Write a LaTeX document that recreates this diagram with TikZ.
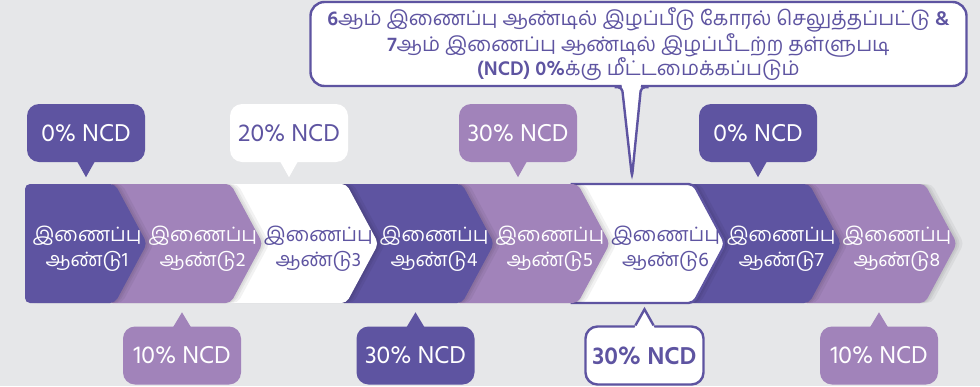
\documentclass[tikz,border=0pt]{standalone}
\usepackage{fontspec}
\setmainfont[Script=Tamil]{Hind Madurai}
\definecolor{ncddark}{HTML}{5E54A1}
\definecolor{ncdlite}{HTML}{A183BA}
\definecolor{ncdgrey}{HTML}{E6E7E9}
\tikzset{
  bubble/.style={rounded corners=12pt, minimum width=118pt, minimum height=58pt,
    inner sep=0pt, font=\fontsize{25}{28}\selectfont},
  yeartext/.style={align=center, font=\fontsize{19.8}{25}\selectfont},
  notetext/.style={align=center, font=\fontsize{20.2}{24}\selectfont, text=ncddark},
}
\begin{document}
\begin{tikzpicture}[x=1pt,y=-1pt]
  \fill[ncdgrey] (0,0) rectangle (980,386);
  \useasboundingbox (0,0) rectangle (980,386);

  % chevrons, drawn from the last one back to the first
  \foreach \i/\bg/\fg in {8/ncdlite/white,7/ncddark/white,6/white/ncddark,5/ncdlite/white,
      4/ncddark/white,3/white/ncddark,2/ncdlite/white,1/ncddark/white}{
    \pgfmathsetmacro\tip{147+115.7*(\i-1)}
    \pgfmathsetmacro\lft{ifthenelse(\i==1,25,\tip-155)}
    \foreach \s in {2,4,7}
      \fill[black,opacity=0.05,xshift=\s,rounded corners=5pt]
        (\lft,184) -- (\tip-32,184) -- (\tip,243.5) -- (\tip-32,303) -- (\lft,303) -- cycle;
    \fill[\bg,rounded corners=5pt]
      (\lft,184) -- (\tip-32,184) -- (\tip,243.5) -- (\tip-32,303) -- (\lft,303) -- cycle;
    \ifnum\i=6
      \draw[ncddark,line width=2.4pt,rounded corners=5pt]
        (\lft,184) -- (\tip-32,184) -- (\tip,243.5) -- (\tip-32,303) -- (\lft,303);
    \fi
    \node[yeartext,text=\fg] (y\i) at (\tip-60,249) {இணைப்பு\\ஆண்டு\i};
  }

  % upper bubbles
  \node[bubble,fill=ncddark,text=white] (t1) at (86,133) {0\% NCD};
  \node[bubble,fill=white,text=ncddark] (t2) at (289,133) {20\% NCD};
  \node[bubble,fill=ncdlite,text=white] (t3) at (518,133) {30\% NCD};
  \node[bubble,fill=ncddark,text=white] (t4) at (758,133) {0\% NCD};
  \foreach \n/\c in {t1/ncddark,t2/white,t3/ncdlite,t4/ncddark}{
    \coordinate (\n tip) at ([yshift=-15]\n.south);
    \fill[\c] ([xshift=-9,yshift=1]\n.south) -- (\n tip) -- ([xshift=9,yshift=1]\n.south) -- cycle;
  }

  % lower bubbles
  \node[bubble,fill=ncdlite,text=white] (b1) at (182,355.5) {10\% NCD};
  \node[bubble,fill=ncddark,text=white] (b2) at (415.5,355.5) {30\% NCD};
  \node[bubble,fill=white,draw=ncddark,line width=2.4pt,text=ncddark,
    font=\fontsize{25}{28}\selectfont\bfseries] (b3) at (644.5,355.5) {30\% NCD};
  \node[bubble,fill=ncdlite,text=white] (b4) at (879,355.5) {10\% NCD};
  \foreach \n/\c in {b1/ncdlite,b2/ncddark}{
    \coordinate (\n tip) at ([yshift=14]\n.north);
    \fill[\c] ([xshift=-9,yshift=-1]\n.north) -- (\n tip) -- ([xshift=9,yshift=-1]\n.north) -- cycle;
  }
  \coordinate (b4tip) at ([yshift=14]b4.north);
  \fill[ncdlite] ([xshift=-9,yshift=-1]b4.north) -- (b4tip) -- ([xshift=9,yshift=-1]b4.north) -- cycle;
  \coordinate (b3tip) at ([yshift=16]b3.north);
  \fill[white] ([xshift=-10,yshift=-2.5]b3.north) -- (b3tip) -- ([xshift=10,yshift=-2.5]b3.north) -- cycle;
  \draw[ncddark,line width=2.4pt] ([xshift=-9]b3.north) -- (b3tip) -- ([xshift=9]b3.north);

  % note on year 6 and 7
  \node[notetext,fill=white,draw=ncddark,line width=2.4pt,rounded corners=14pt,
    minimum width=656pt,minimum height=84pt,inner sep=0pt] (note) at (638.5,44)
    {\textbf{6}ஆம் இணைப்பு ஆண்டில் இழப்பீடு கோரல் செலுத்தப்பட்டு \textbf{\&}\\
     \textbf{7}ஆம் இணைப்பு ஆண்டில் இழப்பீடற்ற தள்ளுபடி\\
     \textbf{(NCD) 0\%}க்கு மீட்டமைக்கப்படும்};
  \coordinate (notetip) at (632,177);
  \fill[white] ([xshift=-17,yshift=3.5]note.south) -- (notetip) -- ([xshift=2.5,yshift=3.5]note.south) -- cycle;
  \draw[ncddark,line width=2.4pt,rounded corners=4pt]
    ([xshift=-24]note.south) -- ([xshift=-16.5]note.south) -- (notetip)
    -- ([xshift=2.5]note.south) -- ([xshift=10]note.south);
\end{tikzpicture}
\end{document}
